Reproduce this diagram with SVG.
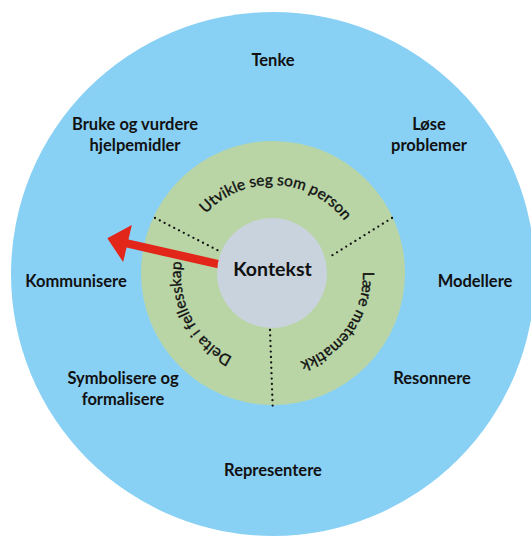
<svg xmlns="http://www.w3.org/2000/svg" width="531" height="538" viewBox="0 0 531 538">
<style>
.lbl{font-family:Lato,"Open Sans","Liberation Sans",sans-serif;font-weight:700;font-size:16.5px;fill:#111;text-anchor:middle}
.arc{font-family:Lato,"Open Sans","Liberation Sans",sans-serif;font-weight:400;font-size:15.5px;fill:#111;stroke:#111;stroke-width:0.35;text-anchor:middle}
.dot{fill:none;stroke:#111;stroke-width:2.3;stroke-linecap:round;stroke-dasharray:0 5.4}
</style>
<defs>
<path id="pTop" d="M 181.13 270.24 A 91 91 0 0 1 362.87 279.76"/>
<path id="pRight" d="M 324.2 200.45 A 91 91 0 0 1 219.8 349.55"/>
<path id="pLeft" d="M 314.72 355.35 A 91 91 0 0 1 229.28 194.65"/>
</defs>
<rect width="531" height="538" fill="#fff"/>
<g id="outer">
<circle cx="273" cy="274" r="262" fill="#89D0F5"/>
<text class="lbl" x="273" y="66">Tenke</text>
<text class="lbl" x="135" y="130">Bruke og vurdere</text>
<text class="lbl" x="135" y="151">hjelpemidler</text>
<text class="lbl" x="429" y="130">Løse</text>
<text class="lbl" x="429" y="151">problemer</text>
<text class="lbl" x="76" y="287">Kommunisere</text>
<text class="lbl" x="475" y="287">Modellere</text>
<text class="lbl" x="123" y="384">Symbolisere og</text>
<text class="lbl" x="123" y="405">formalisere</text>
<text class="lbl" x="432" y="384">Resonnere</text>
<text class="lbl" x="273" y="476">Representere</text>
</g>
<g id="ring">
<circle cx="273" cy="273" r="132" fill="#B9D5A6"/>
<text class="arc"><textPath href="#pTop" startOffset="50%">Utvikle seg som person</textPath></text>
<text class="arc"><textPath href="#pRight" startOffset="50%">Lære matematikk</textPath></text>
<text class="arc"><textPath href="#pLeft" startOffset="50%">Delta i fellesskap</textPath></text>
</g>
<g id="connectors">
<line class="dot" x1="155" y1="218" x2="221" y2="252"/>
<line class="dot" x1="392" y1="218" x2="328" y2="258"/>
<line class="dot" x1="270" y1="330" x2="272.7" y2="407"/>
<polygon fill="#E3261A" points="222.96,260.9 128.46,239.4 131.85,224.9 107.3,238.3 123.15,262.1 126.54,247.6 221.04,269.1"/>
</g>
<g id="kontekst">
<circle cx="272" cy="273" r="55" fill="#C8D3DD"/>
<text class="lbl" x="272.5" y="275.5" style="font-size:19.5px">Kontekst</text>
</g>
</svg>
